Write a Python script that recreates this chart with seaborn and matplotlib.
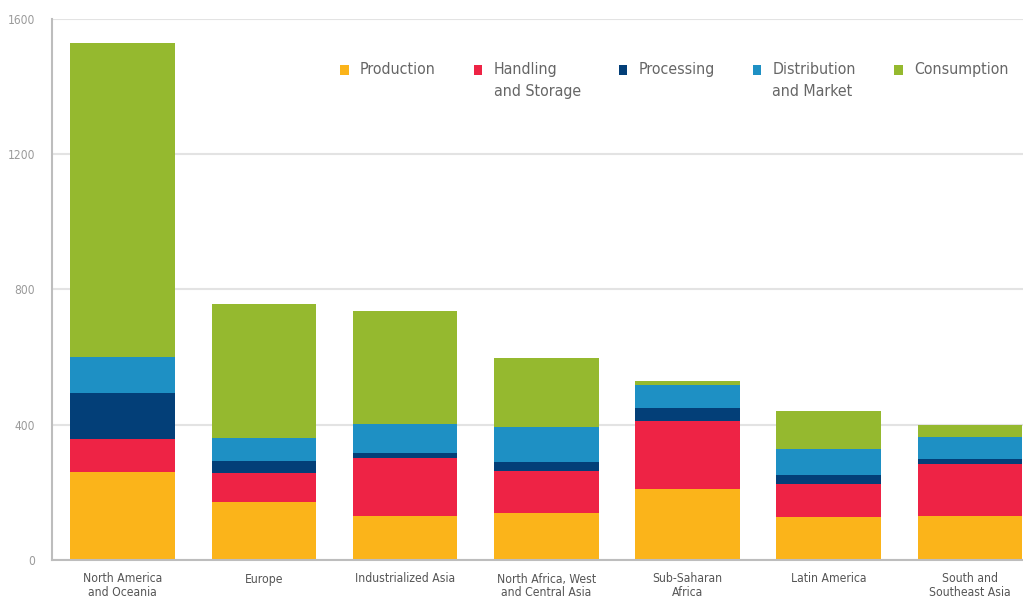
import matplotlib
matplotlib.use("Agg")
import matplotlib.pyplot as plt
from matplotlib.patches import Patch
from matplotlib import font_manager
import seaborn as sns
import pandas as pd
import numpy as np

categories = ["North America\nand Oceania", "Europe", "Industrialized Asia",
              "North Africa, West\nand Central Asia", "Sub-Saharan\nAfrica",
              "Latin America", "South and\nSoutheast Asia"]
stages = ["Production", "Handling\nand Storage", "Processing",
          "Distribution\nand Market", "Consumption"]
production = [261, 172, 130, 138, 209, 126, 131]
handling = [97, 86, 171, 126, 203, 99, 153]
processing = [135, 35, 15, 25, 37, 26, 14]
distribution = [107, 67, 86, 104, 69, 76, 64]
consumption = [927, 397, 334, 205, 12, 112, 38]
colors = ["#FBB41A", "#EE2345", "#033F78", "#1E90C4", "#95B92F"]
yticks = [0, 400, 800, 1200, 1600]

series = [production, handling, processing, distribution, consumption]

sns.set_theme(style="white")

# pick a narrow font if one is installed
fonts = font_manager.fontManager.ttflist
names = {f.name for f in fonts}
stretch = "normal"
scale = 1.0
if "Liberation Sans Narrow" in names:
    family = "Liberation Sans Narrow"
elif any(f.name == "DejaVu Sans" and f.stretch in ("condensed", "semi-condensed") for f in fonts):
    family = "DejaVu Sans"
    stretch = "condensed"
    scale = 0.95
elif "Roboto Condensed" in names:
    family = "Roboto Condensed"
else:
    family = "Roboto"
    scale = 0.88
plt.rcParams["font.family"] = [family, "DejaVu Sans"]
plt.rcParams["font.stretch"] = stretch

fig = plt.figure(figsize=(10.23, 6.01), dpi=100)
ax = fig.add_axes([52 / 1023, 41 / 601, 971 / 1023, (560 - 18.5) / 601])

# cumulative stacks, drawn from the top layer down
cum = np.cumsum(np.array(series), axis=0)
for i in range(len(series) - 1, -1, -1):
    df = pd.DataFrame({"region": categories, "value": cum[i]})
    sns.barplot(data=df, x="region", y="value", color=colors[i],
                width=0.74, saturation=1, ax=ax, linewidth=0)

ax.set_xlim(-0.5, 6.376)
ax.set_ylim(0, 1600)
ax.set_yticks(yticks)
ax.set_yticklabels([str(v) for v in yticks])
ax.set_xlabel("")
ax.set_ylabel("")
ax.grid(axis="y", color="#e3e3e3", linewidth=1.5, zorder=0)
ax.set_axisbelow(True)
for s in ["top", "right"]:
    ax.spines[s].set_visible(False)
for s in ["left", "bottom"]:
    ax.spines[s].set_color("#bdbdbd")
    ax.spines[s].set_linewidth(1.5)
ax.tick_params(axis="y", length=0, pad=12, labelsize=9 * scale, labelcolor="#9a9a9a")
ax.tick_params(axis="x", length=0, pad=9, labelsize=9.2 * scale, labelcolor="#555555")
for t in ax.get_xticklabels():
    t.set_linespacing(1.1)

# all legend labels two lines so that they are top-aligned
leg_labels = [s if "\n" in s else s + "\n " for s in stages]
handles = [Patch(facecolor=c, edgecolor="none") for c in colors]
leg = ax.legend(handles, leg_labels, loc="upper left", bbox_to_anchor=(0.282, 0.946),
                ncol=5, frameon=False, fontsize=12 * scale, handlelength=0.55,
                handleheight=0.55, handletextpad=0.7, columnspacing=2.4,
                labelcolor="#666666")
for t in leg.get_texts():
    t.set_linespacing(1.6)

# move the square markers up to the first text line
fig.canvas.draw()
renderer = fig.canvas.get_renderer()
two = leg.get_texts()[1].get_window_extent(renderer).height
probe = fig.text(0, 0, "Handling", fontsize=12 * scale)
one = probe.get_window_extent(renderer).height
probe.remove()
shift_pt = (two - one) / 2 * 72 / fig.dpi
for h in leg.legend_handles:
    h.set_y(h.get_y() + shift_pt)

fig.savefig("out.png", dpi=100)
